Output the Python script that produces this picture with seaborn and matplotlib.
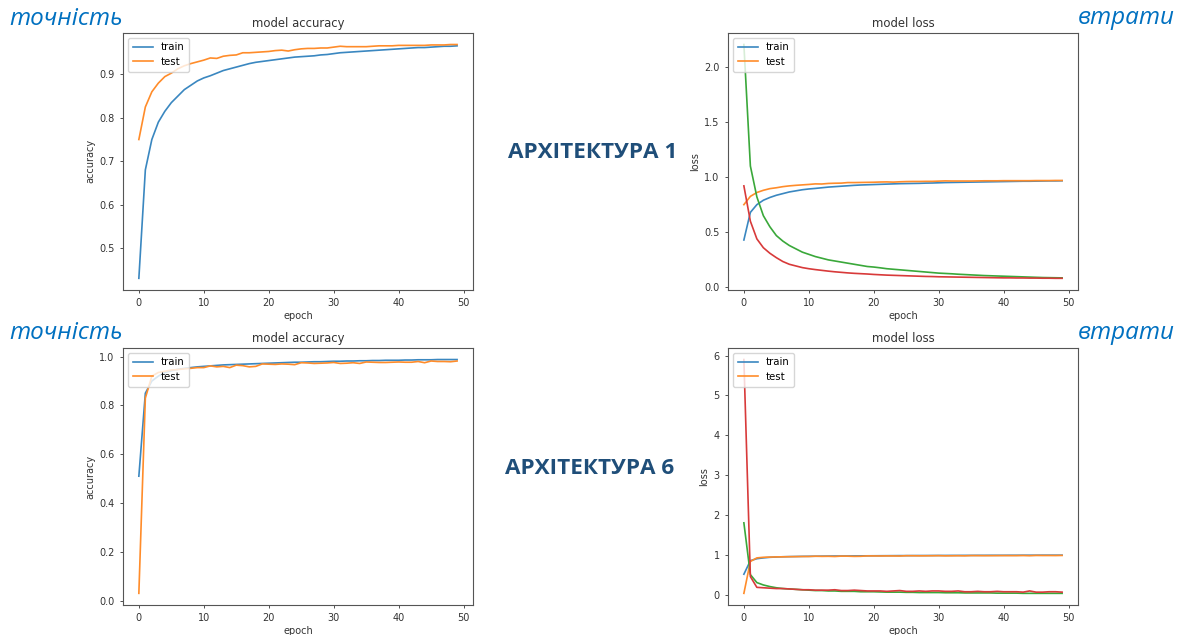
import matplotlib.pyplot as plt
import seaborn as sns
import numpy as np

# Епохи навчання
epochs = list(range(50))

# Архітектура 1 — точність (train / test)
acc1_train = [0.43, 0.68, 0.75, 0.79, 0.815, 0.835, 0.85, 0.865, 0.875, 0.885,
              0.892, 0.897, 0.903, 0.909, 0.913, 0.917, 0.921, 0.925, 0.928, 0.930,
              0.932, 0.934, 0.936, 0.938, 0.940, 0.941, 0.942, 0.943, 0.945, 0.946,
              0.948, 0.950, 0.951, 0.952, 0.953, 0.954, 0.955, 0.956, 0.957, 0.958,
              0.959, 0.960, 0.961, 0.962, 0.962, 0.963, 0.964, 0.965, 0.965, 0.966]
acc1_test = [0.75, 0.825, 0.86, 0.88, 0.895, 0.903, 0.913, 0.92, 0.925, 0.929,
             0.933, 0.938, 0.937, 0.942, 0.944, 0.945, 0.950, 0.950, 0.951, 0.952,
             0.953, 0.955, 0.956, 0.954, 0.957, 0.959, 0.960, 0.960, 0.961, 0.961,
             0.963, 0.965, 0.964, 0.964, 0.964, 0.964, 0.965, 0.966, 0.966, 0.966,
             0.967, 0.967, 0.967, 0.967, 0.967, 0.968, 0.968, 0.968, 0.969, 0.969]
# Архітектура 1 — втрати (loss / val_loss)
loss1_train = [2.2, 1.1, 0.82, 0.65, 0.55, 0.47, 0.42, 0.38, 0.35, 0.32,
               0.30, 0.28, 0.265, 0.25, 0.24, 0.23, 0.22, 0.21, 0.20, 0.19,
               0.185, 0.178, 0.17, 0.165, 0.16, 0.155, 0.15, 0.145, 0.14, 0.135,
               0.13, 0.127, 0.124, 0.12, 0.117, 0.114, 0.111, 0.108, 0.106, 0.104,
               0.102, 0.10, 0.098, 0.096, 0.094, 0.092, 0.09, 0.089, 0.088, 0.087]
loss1_test = [0.92, 0.6, 0.44, 0.36, 0.31, 0.27, 0.235, 0.21, 0.195, 0.18,
              0.17, 0.162, 0.155, 0.148, 0.142, 0.137, 0.132, 0.128, 0.125, 0.122,
              0.118, 0.115, 0.112, 0.11, 0.108, 0.106, 0.104, 0.102, 0.10, 0.099,
              0.097, 0.096, 0.095, 0.094, 0.093, 0.092, 0.091, 0.09, 0.089, 0.088,
              0.087, 0.087, 0.086, 0.086, 0.085, 0.085, 0.084, 0.084, 0.083, 0.083]

# Архітектура 6 — точність
acc6_train = [0.51, 0.85, 0.90, 0.92, 0.935, 0.942, 0.948, 0.952, 0.955, 0.958,
              0.96, 0.962, 0.964, 0.966, 0.967, 0.968, 0.969, 0.970, 0.971, 0.972,
              0.973, 0.974, 0.975, 0.976, 0.977, 0.977, 0.978, 0.979, 0.979, 0.98,
              0.981, 0.981, 0.982, 0.982, 0.983, 0.983, 0.984, 0.984, 0.985, 0.985,
              0.985, 0.986, 0.986, 0.987, 0.987, 0.987, 0.988, 0.988, 0.988, 0.988]
acc6_test = [0.03, 0.83, 0.92, 0.935, 0.94, 0.945, 0.947, 0.950, 0.952, 0.955,
             0.955, 0.962, 0.958, 0.960, 0.955, 0.965, 0.963, 0.958, 0.960, 0.970,
             0.969, 0.968, 0.970, 0.969, 0.967, 0.975, 0.974, 0.972, 0.973, 0.974,
             0.976, 0.972, 0.973, 0.975, 0.972, 0.978, 0.977, 0.976, 0.976, 0.977,
             0.978, 0.977, 0.977, 0.980, 0.975, 0.982, 0.980, 0.980, 0.979, 0.982]
# Архітектура 6 — втрати
loss6_train = [1.8, 0.5, 0.3, 0.24, 0.2, 0.17, 0.15, 0.14, 0.13, 0.12,
               0.11, 0.1, 0.1, 0.09, 0.09, 0.08, 0.08, 0.08, 0.07, 0.07,
               0.07, 0.065, 0.06, 0.06, 0.06, 0.055, 0.055, 0.05, 0.05, 0.05,
               0.05, 0.045, 0.045, 0.045, 0.04, 0.04, 0.04, 0.04, 0.04, 0.035,
               0.035, 0.035, 0.035, 0.03, 0.03, 0.03, 0.03, 0.03, 0.03, 0.03]
loss6_test = [5.9, 0.45, 0.18, 0.17, 0.16, 0.15, 0.15, 0.14, 0.13, 0.12,
              0.12, 0.11, 0.11, 0.11, 0.12, 0.10, 0.10, 0.11, 0.10, 0.09,
              0.09, 0.09, 0.08, 0.09, 0.10, 0.08, 0.08, 0.09, 0.08, 0.09,
              0.09, 0.08, 0.08, 0.09, 0.07, 0.07, 0.08, 0.07, 0.07, 0.08,
              0.07, 0.07, 0.07, 0.06, 0.09, 0.06, 0.06, 0.07, 0.07, 0.06]

BLUE, ORANGE, GREEN, RED = '#3a87c0', '#ff8c2a', '#3aa83a', '#d83a3a'

fig = plt.figure(figsize=(11.81, 6.35), dpi=100)
fig.patch.set_facecolor('white')

W, H = 0.2964, 0.405
positions = {
    'acc1': [0.1041, 0.5433, W, H],
    'loss1': [0.6164, 0.5433, W, H],
    'acc6': [0.1041, 0.0472, W, H],
    'loss6': [0.6164, 0.0472, W, H],
}


def style_axes(ax, title, ylabel):
    ax.set_title(title, fontsize=8.4, color='#333333', pad=4)
    ax.set_xlabel('epoch', fontsize=7, color='#333333', labelpad=2)
    ax.set_ylabel(ylabel, fontsize=7, color='#333333', labelpad=3)
    ax.tick_params(labelsize=7, colors='#333333', length=2.5, width=0.6)
    for s in ax.spines.values():
        s.set_color('#555555')
        s.set_linewidth(0.8)
    ax.legend(loc='upper left', fontsize=7.3, handlelength=2.0,
              borderpad=0.45, labelspacing=0.45, handletextpad=0.8)


lw = 1.2
# Верхній ряд: архітектура 1
ax = fig.add_axes(positions['acc1'])
sns.lineplot(x=epochs, y=acc1_train, ax=ax, color=BLUE, lw=lw, label='train')
sns.lineplot(x=epochs, y=acc1_test, ax=ax, color=ORANGE, lw=lw, label='test')
style_axes(ax, 'model accuracy', 'accuracy')

ax = fig.add_axes(positions['loss1'])
sns.lineplot(x=epochs, y=acc1_train, ax=ax, color=BLUE, lw=lw, label='train')
sns.lineplot(x=epochs, y=acc1_test, ax=ax, color=ORANGE, lw=lw, label='test')
sns.lineplot(x=epochs, y=loss1_train, ax=ax, color=GREEN, lw=lw, legend=False)
sns.lineplot(x=epochs, y=loss1_test, ax=ax, color=RED, lw=lw, legend=False)
style_axes(ax, 'model loss', 'loss')

# Нижній ряд: архітектура 6
ax = fig.add_axes(positions['acc6'])
sns.lineplot(x=epochs, y=acc6_train, ax=ax, color=BLUE, lw=lw, label='train')
sns.lineplot(x=epochs, y=acc6_test, ax=ax, color=ORANGE, lw=lw, label='test')
style_axes(ax, 'model accuracy', 'accuracy')

ax = fig.add_axes(positions['loss6'])
sns.lineplot(x=epochs, y=acc6_train, ax=ax, color=BLUE, lw=lw, label='train')
sns.lineplot(x=epochs, y=acc6_test, ax=ax, color=ORANGE, lw=lw, label='test')
sns.lineplot(x=epochs, y=loss6_train, ax=ax, color=GREEN, lw=lw, legend=False)
sns.lineplot(x=epochs, y=loss6_test, ax=ax, color=RED, lw=lw, legend=False)
style_axes(ax, 'model loss', 'loss')

# Підписи слайда
label_kw = dict(fontsize=17.5, style='italic', color='#0070C0', family='Open Sans',
                va='center')
fig.text(0.008, 1 - 19 / 635, 'точність', ha='left', **label_kw)
fig.text(0.008, 1 - 333 / 635, 'точність', ha='left', **label_kw)
fig.text(0.995, 1 - 18 / 635, 'втрати', ha='right', **label_kw)
fig.text(0.995, 1 - 333 / 635, 'втрати', ha='right', **label_kw)

arch_kw = dict(fontsize=16.2, weight='bold', color='#1F4E79', family='Open Sans',
               ha='center', va='center')
fig.text(593 / 1181, 1 - 152 / 635, 'АРХІТЕКТУРА 1', **arch_kw)
fig.text(590 / 1181, 1 - 468 / 635, 'АРХІТЕКТУРА 6', **arch_kw)

fig.savefig('out.png', dpi=100)
